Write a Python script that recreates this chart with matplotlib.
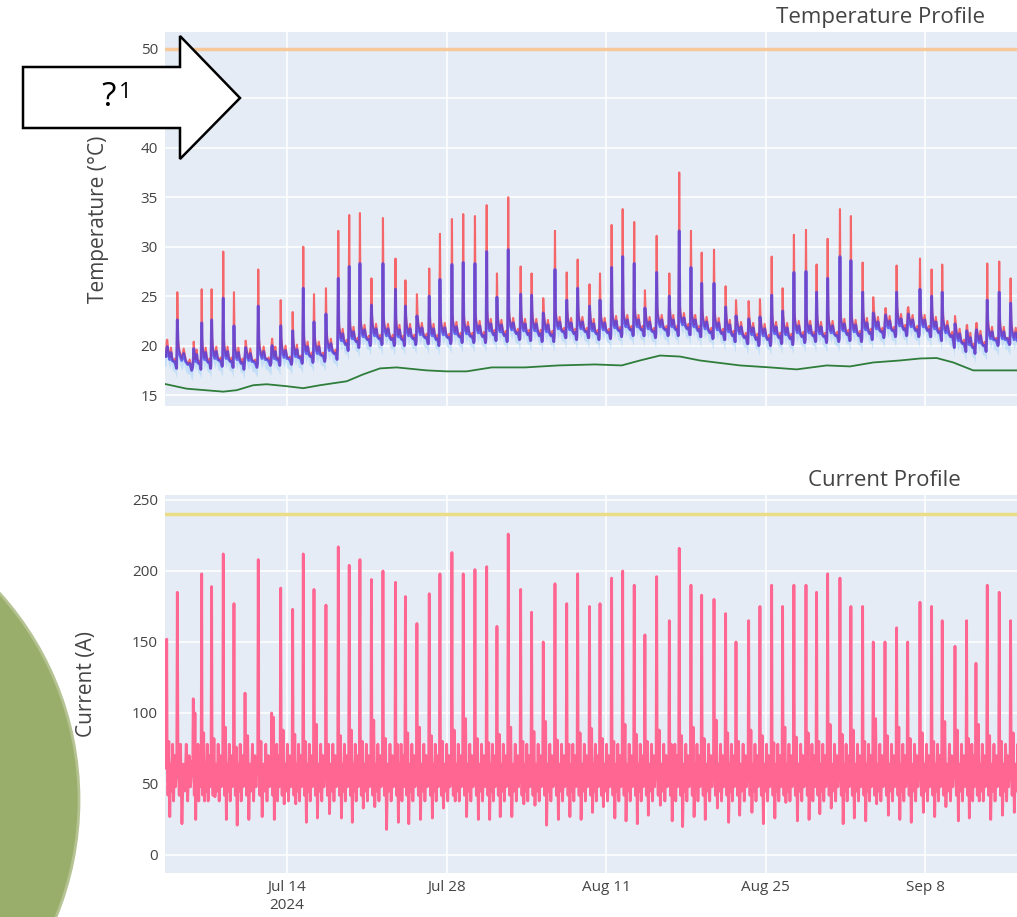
import numpy as np
import pandas as pd
import matplotlib
matplotlib.use("Agg")
import matplotlib.pyplot as plt
from matplotlib.patches import Polygon, Ellipse

plt.rcParams['font.family'] = ['Open Sans', 'DejaVu Sans']

# ---------------- data ----------------
BASE = pd.Timestamp("2024-07-14")

# daily temperature spikes: time (days from Jul 14), red peak, blue peak
spike_day = [-10.55, -9.62, -8.22, -7.48, -6.61, -5.59, -4.65, -3.68, -2.52, -1.34,
             -0.55, 0.50, 1.43, 2.37, 3.42, 4.50, 5.46, 6.40, 7.41, 8.42,
             9.52, 10.39, 11.40, 12.48, 13.42, 14.47, 15.46, 16.49, 17.52, 18.42,
             19.41, 20.50, 21.46, 22.48, 23.51, 24.54, 25.50, 26.54, 27.46, 28.48,
             29.45, 30.46, 31.40, 32.43, 33.54, 34.41, 35.44, 36.38, 37.46, 38.48,
             39.39, 40.50, 41.49, 42.52, 43.48, 44.47, 45.53, 46.46, 47.43, 48.51,
             49.47, 50.50, 51.43, 52.46, 53.48, 54.45, 55.53, 56.55, 57.48, 58.60,
             59.62, 60.44, 61.43, 62.48, 63.48]
red_peak = [20.5, 25.4, 18.8, 25.7, 25.7, 29.5, 25.4, 19.3, 27.7, 20.3,
            24.6, 23.4, 30.0, 25.2, 25.8, 31.6, 33.2, 33.4, 26.8, 32.9,
            28.8, 26.6, 25.2, 27.8, 31.3, 32.8, 33.3, 33.1, 34.2, 27.3,
            35.0, 28.0, 27.3, 24.8, 31.6, 27.4, 28.7, 26.2, 27.3, 32.2,
            33.8, 32.5, 25.6, 31.1, 27.3, 37.5, 31.6, 29.4, 29.7, 26.0,
            24.6, 24.5, 24.7, 29.0, 25.8, 31.2, 31.7, 28.2, 30.8, 33.8,
            33.1, 28.4, 24.9, 23.0, 28.1, 23.7, 28.8, 27.7, 28.2, 23.0,
            22.0, 21.7, 28.3, 28.5, 26.8]
blue_peak = [19.6, 22.6, 18.5, 22.3, 22.6, 24.8, 22.0, 18.9, 24.0, 19.8,
             22.0, 21.5, 25.8, 22.4, 23.2, 26.8, 28.0, 28.3, 24.1, 28.3,
             25.7, 24.0, 23.0, 25.0, 26.7, 28.2, 28.4, 28.3, 29.5, 24.9,
             29.7, 25.2, 25.1, 23.3, 27.7, 24.6, 25.8, 24.0, 24.6, 27.9,
             29.0, 28.3, 23.8, 27.4, 25.0, 31.6, 27.9, 26.3, 26.3, 23.9,
             23.0, 22.7, 22.9, 25.1, 23.5, 27.4, 27.5, 25.4, 26.8, 29.0,
             28.6, 25.4, 23.3, 22.3, 25.4, 22.4, 25.7, 25.0, 25.4, 22.2,
             21.5, 21.2, 24.6, 25.4, 24.3]
# level between spikes (shoulder) and the dip before the next spike
temp_shoulder = [18.9, 18.8, 18.7, 18.9, 19.0, 19.0, 18.9, 18.8, 19.0, 19.0,
                 19.1, 19.2, 19.5, 19.5, 19.8, 20.8, 21.0, 21.2, 21.3, 21.3,
                 21.2, 21.3, 21.4, 21.3, 21.4, 21.5, 21.5, 21.6, 21.8, 21.7,
                 21.9, 21.8, 21.8, 21.7, 22.0, 21.9, 22.0, 21.8, 21.9, 22.1,
                 22.2, 22.2, 22.0, 22.2, 22.2, 22.4, 22.2, 22.0, 21.9, 21.7,
                 21.5, 21.4, 21.3, 21.5, 21.4, 21.6, 21.6, 21.5, 21.6, 21.8,
                 21.7, 21.9, 22.0, 22.1, 22.3, 22.2, 22.2, 22.0, 21.6, 20.8,
                 20.4, 20.6, 21.0, 21.0, 20.9]
temp_trough = [17.8, 17.5, 17.6, 17.7, 17.9, 17.8, 17.6, 17.8, 18.0, 18.0,
               18.1, 18.2, 18.3, 18.4, 18.6, 19.5, 19.8, 20.0, 20.1, 20.0,
               20.0, 20.1, 20.2, 20.0, 20.2, 20.3, 20.3, 20.3, 20.5, 20.4,
               20.6, 20.5, 20.4, 20.4, 20.8, 20.6, 20.8, 20.6, 20.7, 20.9,
               21.0, 21.0, 20.8, 21.0, 21.0, 21.1, 20.9, 20.7, 20.6, 20.4,
               20.2, 20.0, 20.0, 20.2, 20.1, 20.3, 20.4, 20.3, 20.4, 20.5,
               20.4, 20.6, 20.8, 20.9, 21.0, 20.9, 20.9, 20.7, 20.3, 19.6,
               19.2, 19.4, 20.0, 20.1, 20.0]
# shape of one day between spikes (fraction of interval, offset from shoulder/trough)
day_frac = [0.05, 0.14, 0.28, 0.40, 0.52, 0.66, 0.78, 0.90]
blue_offset = [1.0, 0.3, -0.3, 0.4, -0.4, None, -0.6, None]
red_offset = [1.7, 0.6, -0.1, 0.9, -0.2, None, -0.2, None]

# ambient temperature (green)
ambient_day = [-10.8, -8.80, -5.59, -4.41, -2.96, -1.78, -0.03, 1.43, 2.89, 5.24,
               6.69, 8.16, 9.62, 12.25, 14.01, 15.76, 17.96, 20.88, 23.80, 27.02,
               29.36, 30.96, 32.72, 34.47, 36.23, 39.74, 42.37, 44.71, 47.34, 49.39,
               51.43, 53.77, 55.53, 56.99, 58.45, 60.20, 64.5]
ambient_temp = [16.15, 15.65, 15.35, 15.5, 16.0, 16.1, 15.9, 15.7, 16.0, 16.4,
                17.1, 17.7, 17.8, 17.5, 17.4, 17.4, 17.8, 17.8, 18.0, 18.1,
                18.0, 18.5, 19.0, 18.9, 18.5, 18.0, 17.8, 17.6, 18.0, 17.9,
                18.3, 18.5, 18.7, 18.75, 18.3, 17.5, 17.5]

temp_limit = 50
current_limit = 240

# current: daily peak, daily high of the base band and daily low
current_peak = [152, 185, 110, 198, 189, 212, 177, 114, 208, 100,
                188, 173, 212, 187, 176, 217, 204, 208, 194, 200,
                192, 182, 163, 184, 198, 213, 198, 201, 203, 161,
                226, 187, 171, 150, 191, 177, 198, 175, 177, 195,
                200, 190, 155, 196, 165, 216, 190, 183, 180, 170,
                150, 165, 175, 190, 175, 190, 190, 185, 198, 195,
                175, 175, 150, 150, 160, 150, 178, 175, 165, 147,
                165, 135, 190, 185, 165]
current_high = [80, 78, 100, 86, 82, 90, 76, 84, 80, 97,
                88, 85, 80, 92, 78, 84, 88, 80, 95, 82,
                78, 86, 90, 84, 80, 88, 96, 82, 79, 85,
                90, 80, 87, 94, 81, 78, 86, 89, 82, 80,
                92, 85, 80, 88, 78, 84, 90, 82, 95, 86,
                80, 88, 84, 79, 90, 83, 86, 80, 92, 85,
                88, 80, 96, 84, 90, 82, 86, 80, 94, 88,
                82, 92, 84, 80, 86]
current_low = [27, 22, 25, 38, 41, 25, 21, 25, 27, 25,
               36, 36, 23, 26, 29, 26, 23, 33, 34, 18,
               23, 22, 25, 26, 33, 38, 27, 25, 25, 27,
               27, 36, 35, 21, 25, 27, 25, 30, 34, 26,
               24, 22, 28, 35, 24, 20, 27, 25, 33, 23,
               28, 30, 22, 26, 37, 24, 25, 29, 33, 22,
               26, 24, 36, 28, 25, 23, 30, 27, 34, 24,
               26, 38, 25, 28, 30]
cur_frac = [0.04, 0.12, 0.20, 0.29, 0.38, 0.47, 0.56, 0.65, 0.74, 0.83, 0.92]
cur_shape = [72, 42, "H", "L", 64, 45, 78, 38, 70, 48, 66]

xticks = ["2024-07-14", "2024-07-28", "2024-08-11", "2024-08-25", "2024-09-08"]
xtick_labels = ["Jul 14\n2024", "Jul 28", "Aug 11", "Aug 25", "Sep 8"]


def build_temp(peaks, offsets):
    tt, vv = [spike_day[0] - 0.3], [temp_shoulder[0]]
    n = len(spike_day)
    for i in range(n):
        t0 = spike_day[i]
        t1 = spike_day[i + 1] if i + 1 < n else 64.6
        tt += [t0 - 0.06, t0]
        vv += [temp_trough[i] + 0.2 if i > 0 else temp_shoulder[0], peaks[i]]
        for f, off in zip(day_frac, offsets):
            tt.append(t0 + f * (t1 - t0))
            vv.append(temp_trough[i] + (0.6 if f < 0.7 else 0.0) if off is None
                      else temp_shoulder[i] + off)
    return np.array(tt), np.array(vv)


def build_current():
    tt, vv = [spike_day[0] - 0.3], [60]
    n = len(spike_day)
    for i in range(n):
        t0 = spike_day[i]
        t1 = spike_day[i + 1] if i + 1 < n else 64.6
        tt += [t0 - 0.05, t0]
        vv += [62, current_peak[i]]
        for f, v in zip(cur_frac, cur_shape):
            tt.append(t0 + f * (t1 - t0))
            if v == "H":
                vv.append(current_high[i])
            elif v == "L":
                vv.append(current_low[i])
            else:
                vv.append(v)
    return np.array(tt), np.array(vv)


def to_dates(days):
    return (BASE + pd.to_timedelta(np.asarray(days), unit="D")).values


bt, bv = build_temp(blue_peak, blue_offset)
rt, rv = build_temp(red_peak, red_offset)
ct, cv = build_current()

# ---------------- figure ----------------
W, H = 1017, 917
fig = plt.figure(figsize=(W / 100, H / 100), dpi=100)
fig.patch.set_facecolor("white")

ax1 = fig.add_axes([165 / W, 1 - 406 / H, 1 - 165 / W, (406 - 32) / H])
ax2 = fig.add_axes([165 / W, 1 - 873 / H, 1 - 165 / W, (873 - 495) / H])

xmin, xmax = to_dates([-10.7, 64.04])
for ax in (ax1, ax2):
    ax.set_facecolor("#E5ECF6")
    for s in ax.spines.values():
        s.set_visible(False)
    ax.grid(True, color="white", lw=1.1)
    ax.set_axisbelow(True)
    ax.tick_params(length=0, labelsize=11, labelcolor="#444444", pad=5)
    ax.set_xlim(xmin, xmax)
    ax.set_xticks(pd.to_datetime(xticks))

# temperature
ax1.fill_between(to_dates(bt), bv - 1.0, bv + 0.3, color="#a7d3f7", alpha=0.55, lw=0)
ax1.plot(to_dates(rt), rv, color="#ff1f1f", alpha=0.65, lw=1.5)
ax1.plot(to_dates(bt), bv, color="#3b3bf0", alpha=0.7, lw=2.1)
ax1.plot(to_dates(ambient_day), ambient_temp, color="#2f7d3a", lw=1.3)
ax1.axhline(temp_limit, color="#f7c89a", lw=2.5)
ax1.set_ylim(13.9, 51.7)
ax1.set_yticks([15, 20, 25, 30, 35, 40, 45, 50])
ax1.set_xticklabels([])
ax1.set_ylabel("Temperature (°C)", fontsize=15, color="#444444")
ax1.yaxis.set_label_coords(-0.066, 0.5)

# current
ax2.plot(to_dates(ct), cv, color="#FF6692", lw=2.0)
ax2.axhline(current_limit, color="#ebdc86", lw=2.5)
ax2.set_ylim(-12.7, 253.5)
ax2.set_yticks([0, 50, 100, 150, 200, 250])
ax2.set_xticklabels(xtick_labels, linespacing=1.3)
ax2.set_ylabel("Current (A)", fontsize=15, color="#444444")
ax2.yaxis.set_label_coords(-0.080, 0.5)

fig.text(880 / W, 1 - 17 / H, "Temperature Profile", ha="center", va="center",
         fontsize=16, color="#444444")
fig.text(884 / W, 1 - 481 / H, "Current Profile", ha="center", va="center",
         fontsize=16, color="#444444")


# overlays: block arrow with "?1" and green circle
def px(x, y):
    return (x / W, 1 - y / H)


arrow = Polygon([px(23, 67), px(180, 67), px(180, 36), px(240, 98), px(180, 159),
                 px(180, 128), px(23, 128)], closed=True, facecolor="white",
                edgecolor="black", lw=1.8, transform=fig.transFigure, zorder=10)
fig.add_artist(arrow)
fig.text(109 / W, 1 - 98 / H, "?", ha="center", va="center", fontsize=24,
         color="black", zorder=11)
fig.text(125 / W, 1 - 92 / H, "1", ha="center", va="center", fontsize=16,
         color="black", zorder=11)

circle = Ellipse(px(-230, 800), 2 * 309 / W, 2 * 309 / H, facecolor="#9aae6c",
                 edgecolor="#b5c392", lw=2, transform=fig.transFigure, zorder=10)
fig.add_artist(circle)

fig.savefig("out.png", dpi=100, facecolor="white")
